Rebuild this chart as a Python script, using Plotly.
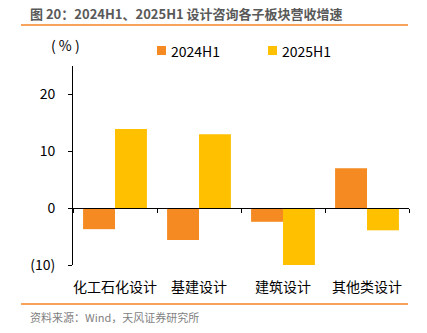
import plotly.graph_objects as go

categories = ["化工石化设计", "基建设计", "建筑设计", "其他类设计"]
s2024 = [-3.7, -5.6, -2.4, 7.0]
s2025 = [13.9, 13.0, -10.2, -3.9]
series_names = ["2024H1", "2025H1"]
series_colors = ["#F58A22", "#FFC000"]
ytick_vals = [-10, 0, 10, 20]
ytick_text = ["(10)", "0", "10", "20"]

FONT = "Noto Sans CJK SC"
W, H = 427, 333
L, R, T, B = 73, 18, 66, 68
PW, PH = W - L - R, H - T - B


def px_x(p):
    return (p - L) / PW


def px_y(p):
    return ((H - B) - p) / PH


fig = go.Figure()
for name, vals, col in zip(series_names, [s2024, s2025], series_colors):
    fig.add_bar(x=categories, y=vals, name=name, marker_color=col,
                marker_line_width=0)

ymin, ymax = -10, 25

fig.update_layout(
    width=W, height=H,
    margin=dict(l=L, r=R, t=T, b=B, autoexpand=False),
    paper_bgcolor="white", plot_bgcolor="white",
    barmode="group", bargap=0.24, bargroupgap=0,
    font=dict(family=FONT, size=14, color="#000000"),
    showlegend=False,
    xaxis=dict(type="category", categoryarray=categories, range=[-0.5, 3.5],
               anchor="free", position=(0 - ymin) / (ymax - ymin),
               showline=True, linecolor="#000000", linewidth=1,
               ticks="outside", tickson="boundaries", ticklen=4, tickcolor="#000000",
               tickfont=dict(size=14, family=FONT), ticklabelstandoff=66,
               tickangle=0, automargin=False,
               showgrid=False, zeroline=False),
    yaxis=dict(range=[ymin, ymax], tickvals=ytick_vals, ticktext=ytick_text,
               showline=True, linecolor="#000000", linewidth=1,
               ticks="outside", ticklen=4, tickcolor="#000000",
               tickfont=dict(size=14, family=FONT), automargin=False,
               ticklabelstandoff=10,
               showgrid=False, zeroline=False),
)

# manual legend (squares + labels)
for i, (name, col) in enumerate(zip(series_names, series_colors)):
    x0 = 157 + i * 111
    fig.add_shape(type="rect", xref="paper", yref="paper",
                  x0=px_x(x0), x1=px_x(x0 + 9), y0=px_y(55), y1=px_y(46),
                  fillcolor=col, line=dict(width=0))
    fig.add_annotation(text=name, xref="paper", yref="paper",
                       x=px_x(x0 + 12), xanchor="left", y=px_y(51), yanchor="middle",
                       showarrow=False, font=dict(size=14, color="#000000", family=FONT))

# title and source texts
fig.add_annotation(text="<b>图 20：2024H1、2025H1 设计咨询各子板块营收增速</b>",
                   xref="paper", yref="paper",
                   x=px_x(28), xanchor="left", y=px_y(13), yanchor="middle",
                   showarrow=False, font=dict(size=13, color="#595959", family=FONT))
fig.add_annotation(text="资料来源：Wind，天风证券研究所",
                   xref="paper", yref="paper",
                   x=px_x(28), xanchor="left", y=px_y(317), yanchor="middle",
                   showarrow=False, font=dict(size=11, color="#7F7F7F", family=FONT))
fig.add_annotation(text="( % )",
                   xref="paper", yref="paper",
                   x=px_x(65), xanchor="center", y=px_y(45), yanchor="middle",
                   showarrow=False, font=dict(size=14, color="#000000", family=FONT))

# orange separator lines
for ypix in (25, 304):
    fig.add_shape(type="line", xref="paper", yref="paper",
                  x0=px_x(21), x1=px_x(408), y0=px_y(ypix), y1=px_y(ypix),
                  line=dict(color="#F7A35C", width=2))

fig.write_html("out.html")
